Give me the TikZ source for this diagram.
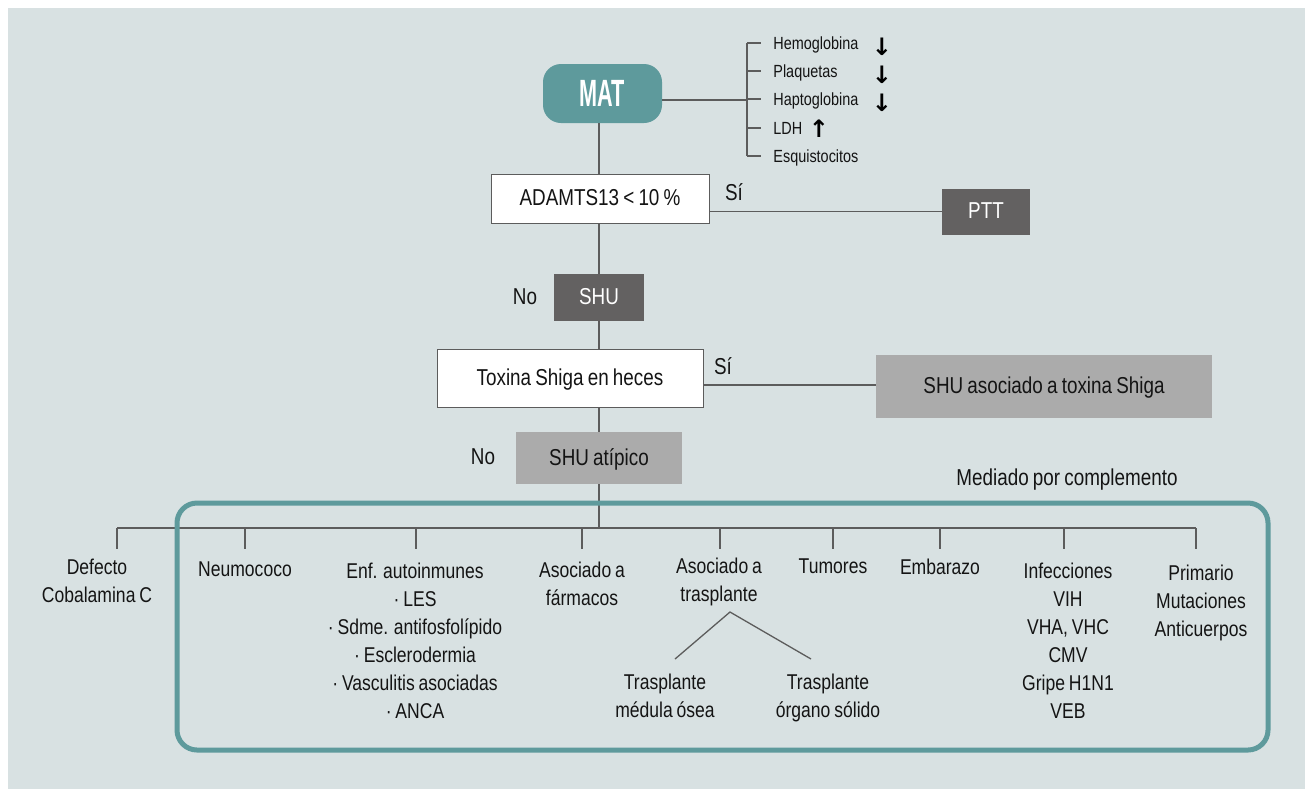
\documentclass[tikz,border=0pt]{standalone}
\usepackage{fontspec}
\setmainfont[FakeStretch=0.82,WordSpace=0.8]{Liberation Sans}
\newfontfamily\matfont[FakeStretch=0.57]{Liberation Sans}
\newfontfamily\arrfont{DejaVu Sans}

\definecolor{bgc}{HTML}{D8E1E2}
\definecolor{matteal}{HTML}{5E9A9C}
\definecolor{boxdark}{HTML}{636161}
\definecolor{boxlight}{HTML}{ABABAB}
\definecolor{conngray}{HTML}{5C5C5C}
\definecolor{txt}{HTML}{141414}

\begin{document}
\begin{tikzpicture}[x=0.5pt,y=-0.5pt,
  conn/.style={draw=conngray,line width=0.65pt},
  boxtext/.style={font=\fontsize{11.5}{14}\selectfont,text height=0.72em,text depth=0pt},
  whitebox/.style={boxtext,draw=conngray,line width=0.5pt,fill=white,text=txt},
  darkbox/.style={boxtext,fill=boxdark,text=white},
  lightbox/.style={boxtext,fill=boxlight,text=txt},
  answer/.style={boxtext,inner sep=0pt,text=txt},
  leaf/.style={anchor=north,inner sep=0pt,align=center,text=txt,font=\fontsize{10.7}{14}\selectfont},
  item/.style={anchor=west,inner sep=0pt,text=txt,font=\fontsize{8.8}{10}\selectfont,text height=6.3pt,text depth=0pt},
  updown/.style={inner sep=0pt,text=black,font=\arrfont\bfseries\fontsize{12}{12}\selectfont}]
\useasboundingbox (0,0) rectangle (1305,789);
\fill[bgc] (8,8) rectangle (1305,789);

% MAT and lab findings
\node[fill=matteal,rounded corners=9pt,minimum width=59.5pt,minimum height=29.5pt,text=white,
  font=\matfont\bfseries\fontsize{19}{20}\selectfont] (mat) at (602.5,93.5) {MAT};
\coordinate (brk) at (747,100);
\node[item] (hem) at (773,43) {Hemoglobina};
\node[item] (pla) at (773,71) {Plaquetas};
\node[item] (hap) at (773,99) {Haptoglobina};
\node[item] (ldh) at (773,128) {LDH};
\node[item] (esq) at (773,156) {Esquistocitos};
\node[updown] (hemar) at (882,47) {↓};
\node[updown] (plaar) at (882,75) {↓};
\node[updown] (hapar) at (882,103) {↓};
\node[updown] (ldhar) at (819,129) {↑};

\draw[conn] (mat.east |- brk) -- (brk);
\draw[conn] (brk |- hem.west) -- (brk |- esq.west);
\foreach \n in {hem,pla,hap,ldh,esq}
  \draw[conn] (brk |- \n.west) -- ([xshift=-6pt]\n.west);

% decision chain
\node[whitebox,minimum width=109pt,minimum height=24.5pt] (adamts) at (600,198.5) {ADAMTS13 < 10 \%};
\node[darkbox,minimum width=44pt,minimum height=23pt] (ptt) at (986,211.5) {PTT};
\node[darkbox,minimum width=45pt,minimum height=23.5pt] (shu) at (599,297.5) {SHU};
\node[whitebox,minimum width=133pt,minimum height=29pt] (tox) at (570,378) {Toxina Shiga en heces};
\node[lightbox,minimum width=168pt,minimum height=31.5pt] (shuag) at (1044,386.5) {SHU asociado a toxina Shiga};
\node[lightbox,minimum width=83pt,minimum height=26pt] (atip) at (599,458) {SHU atípico};

\node[answer] (si1) at (734,193) {Sí};
\node[answer] (no1) at (525,297) {No};
\node[answer] (si2) at (723,367) {Sí};
\node[answer] (no2) at (483,457) {No};

\draw[conn] (shu.north |- mat.south) -- (shu.north |- adamts.north);
\draw[conn] (shu.north |- adamts.south) -- (shu.north);
\draw[conn] (adamts.east |- ptt.west) -- (ptt.west);
\draw[conn] (shu.south) -- (shu.south |- tox.north);
\draw[conn] (shu.south |- tox.south) -- (atip.north);
\draw[conn] (tox.east |- 0,385) -- (shuag.west |- 0,385);

% causes
\node[text=txt,inner sep=0pt,font=\fontsize{11.5}{14}\selectfont] (med) at (1067,480) {Mediado por complemento};
\coordinate (split) at (599,528);
\coordinate (t1) at (117,549);
\coordinate (t2) at (245,549);
\coordinate (t3) at (416,549);
\coordinate (t4) at (582,549);
\coordinate (t5) at (720,549);
\coordinate (t6) at (833,549);
\coordinate (t7) at (940,549);
\coordinate (t8) at (1064,549);
\coordinate (t9) at (1196,549);
\draw[conn] (atip.south) -- (split);
\draw[conn] (t1 |- split) -- (t9 |- split);
\foreach \t in {t1,t2,t3,t4,t5,t6,t7,t8,t9}
  \draw[conn] (\t |- split) -- (\t);

\node[leaf] (def) at (97,559) {Defecto\\Cobalamina C};
\node[leaf] (neu) at (245,561) {Neumococo};
\node[leaf] (enf) at (415,563) {Enf. autoinmunes\\· LES\\· Sdme. antifosfolípido\\· Esclerodermia\\· Vasculitis asociadas\\· ANCA};
\node[leaf] (far) at (582,562) {Asociado a\\fármacos};
\node[leaf] (tra) at (719,558) {Asociado a\\trasplante};
\node[leaf] (tum) at (833,558) {Tumores};
\node[leaf] (emb) at (940,559) {Embarazo};
\node[leaf] (inf) at (1068,563) {Infecciones\\VIH\\VHA, VHC\\CMV\\Gripe H1N1\\VEB};
\node[leaf] (pri) at (1201,565) {Primario\\Mutaciones\\Anticuerpos};
\node[leaf] (tmo) at (665,674) {Trasplante\\médula ósea};
\node[leaf] (tos) at (828,674) {Trasplante\\órgano sólido};

\coordinate (apex) at (730,612);
\coordinate (tmoend) at (675,659);
\coordinate (tosend) at (811,659);
\draw[conn] (tmoend) -- (apex) -- (tosend);

\draw[draw=matteal,line width=2.5pt,rounded corners=10pt] (177,503) rectangle (1268,750);
\end{tikzpicture}
\end{document}
